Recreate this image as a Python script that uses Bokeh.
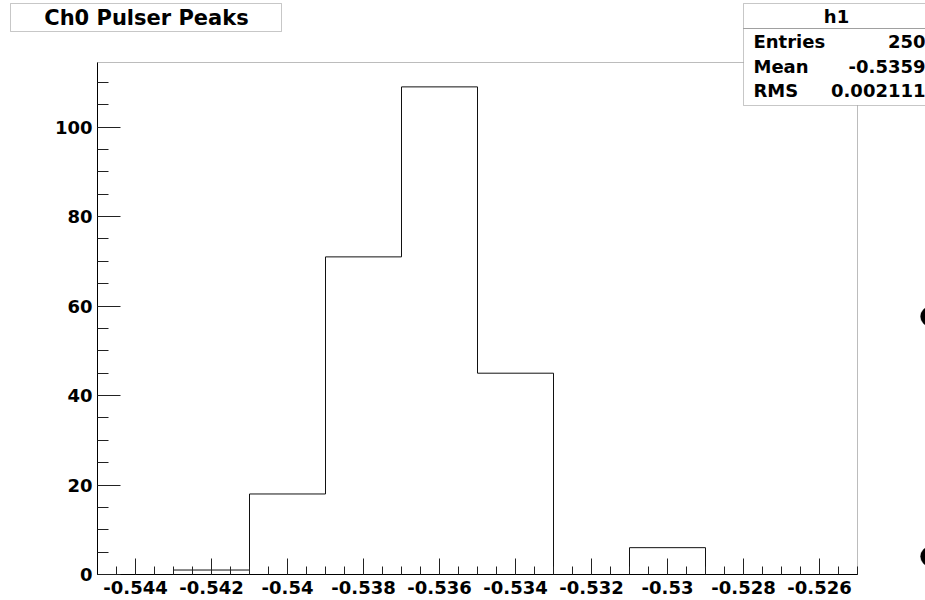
from bokeh.plotting import figure
from bokeh.models import FixedTicker, Label, BoxAnnotation, Range1d
from bokeh.embed import file_html
from bokeh.resources import INLINE
import numpy as np

# ---- data ----
bin_edges = [-0.545, -0.543, -0.541, -0.539, -0.537, -0.535, -0.533, -0.531, -0.529, -0.527, -0.525]
bin_counts = [0, 1, 18, 71, 109, 45, 0, 6, 0, 0]
x_tick_values = [-0.544, -0.542, -0.540, -0.538, -0.536, -0.534, -0.532, -0.530, -0.528, -0.526]
x_tick_labels = ["-0.544", "-0.542", "-0.54", "-0.538", "-0.536", "-0.534", "-0.532", "-0.53", "-0.528", "-0.526"]
y_tick_values = [0, 20, 40, 60, 80, 100]
y_minor_step = 5
x_minor_step = 0.0005
title_text = "Ch0 Pulser Peaks"
stats_name = "h1"
stats_labels = ["Entries", "Mean", "RMS"]
stats_values = ["250", "-0.5359", "0.002111"]

FONT = "DejaVu Sans"
W, H = 925, 600
FL, FT, FR, FB = 97, 62, 857, 574  # histogram frame box on the canvas (pixels)

y_max = max(bin_counts) * 1.05
x0, x1 = bin_edges[0], bin_edges[-1]
kx = (FR - FL) / (x1 - x0)
ky = (FB - FT) / y_max

# the plotting frame covers the whole canvas; ranges are padded so the
# histogram area sits where the reference has it
p = figure(width=W, height=H, output_backend="svg", toolbar_location=None,
           x_range=Range1d(x0 - FL / kx, x1 + (W - FR) / kx),
           y_range=Range1d(-(H - FB) / ky, y_max + FT / ky),
           min_border=0)
p.background_fill_color = "white"
p.border_fill_color = "white"
p.outline_line_color = None
p.xgrid.visible = False
p.ygrid.visible = False

# frame box of the histogram
p.add_layout(BoxAnnotation(left=x0, right=x1, bottom=0, top=y_max,
                           fill_alpha=0, line_color="#222222", line_width=1, level="underlay"))

# histogram outline
p.step(x=bin_edges, y=bin_counts + [bin_counts[-1]], mode="after", line_color="#111111", line_width=1)

# axes fixed at the histogram frame edges
x_minor = list(np.round(np.arange(x0, x1 + 1e-9, x_minor_step), 6))
p.xaxis.ticker = FixedTicker(ticks=x_tick_values, minor_ticks=x_minor)
p.xaxis.major_label_overrides = {v: s for v, s in zip(x_tick_values, x_tick_labels)}
p.xaxis.fixed_location = 0
p.xaxis.bounds = (x0, x1)
y_minor = list(range(0, int(y_max) + 1, y_minor_step))
p.yaxis.ticker = FixedTicker(ticks=y_tick_values, minor_ticks=y_minor)
p.yaxis.fixed_location = x0
p.yaxis.bounds = (0, y_max)

for ax in (p.xaxis[0], p.yaxis[0]):
    ax.axis_line_color = "black"
    ax.axis_line_width = 1
    ax.major_tick_line_color = "#222222"
    ax.minor_tick_line_color = "#222222"
    ax.major_tick_out = 0
    ax.minor_tick_out = 0
    ax.major_label_text_font = FONT
    ax.major_label_text_font_style = "bold"
    ax.major_label_text_font_size = "18px"
    ax.major_label_text_color = "black"

p.xaxis.major_tick_in = 16
p.xaxis.minor_tick_in = 8
p.xaxis.major_label_standoff = 6
p.yaxis.major_tick_in = 23
p.yaxis.minor_tick_in = 11
p.yaxis.major_label_standoff = 5


def sy(cy):
    return H - cy


SCR = dict(left_units="screen", right_units="screen", top_units="screen", bottom_units="screen")

# title box
p.add_layout(BoxAnnotation(left=10, right=281, top=sy(3), bottom=sy(31), **SCR,
                           fill_color="white", fill_alpha=1, line_color="#444444", line_width=1, level="overlay"))
p.add_layout(Label(x=146, y=sy(17), x_units="screen", y_units="screen", text=title_text,
                   text_font=FONT, text_font_style="bold", text_font_size="21px",
                   text_align="center", text_baseline="middle", text_color="black", level="overlay"))

# stats box
p.add_layout(BoxAnnotation(left=743, right=930, top=sy(3), bottom=sy(105), **SCR,
                           fill_color="white", fill_alpha=1, line_color="#444444", line_width=1, level="overlay"))
p.add_layout(BoxAnnotation(left=743, right=930, top=sy(28), bottom=sy(28), **SCR,
                           fill_alpha=0, line_color="#444444", line_width=1, level="overlay"))
p.add_layout(Label(x=836, y=sy(16), x_units="screen", y_units="screen", text=stats_name,
                   text_font=FONT, text_font_style="bold", text_font_size="18px",
                   text_align="center", text_baseline="middle", text_color="black", level="overlay"))
row_y = [41, 66, 90]
for lab, val, cy in zip(stats_labels, stats_values, row_y):
    p.add_layout(Label(x=753, y=sy(cy), x_units="screen", y_units="screen", text=lab,
                       text_font=FONT, text_font_style="bold", text_font_size="18px",
                       text_align="left", text_baseline="middle", text_color="black", level="overlay"))
    p.add_layout(Label(x=925, y=sy(cy), x_units="screen", y_units="screen", text=val,
                       text_font=FONT, text_font_style="bold", text_font_size="18px",
                       text_align="right", text_baseline="middle", text_color="black", level="overlay"))

# two round bullet dots cut by the right edge of the picture
R = 10
for cy in (316, 556):
    p.add_layout(BoxAnnotation(left=930 - R, right=930 + R, top=sy(cy - R), bottom=sy(cy + R), **SCR,
                               border_radius=R, fill_color="black", fill_alpha=1,
                               line_color="black", line_width=1, level="overlay"))

open("out.html", "w").write(file_html(p, INLINE))
